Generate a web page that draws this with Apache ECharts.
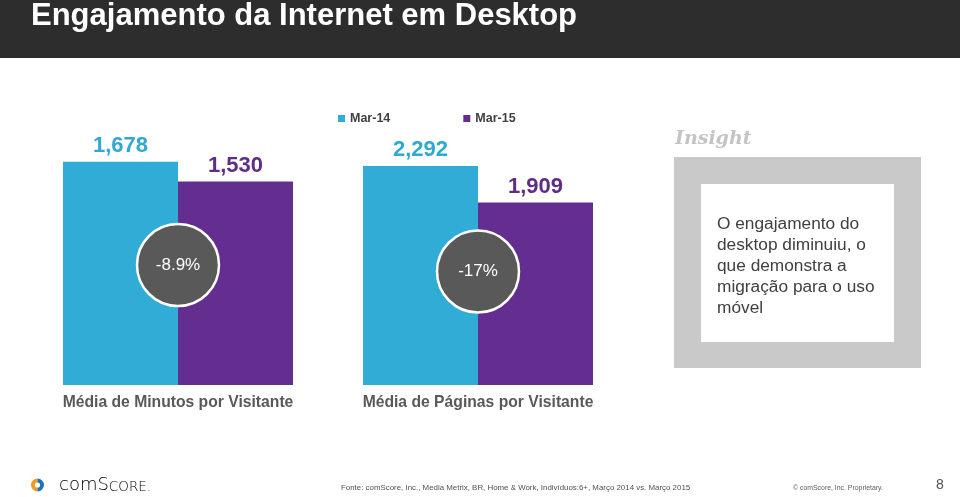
<!DOCTYPE html>
<html>
<head>
<meta charset="utf-8">
<script src="https://cdn.jsdelivr.net/npm/echarts@6/dist/echarts.min.js"></script>
<style>
  html, body { margin: 0; padding: 0; background: #fff; }
  #main { width: 960px; height: 497px; }
</style>
</head>
<body>
<div id="main"></div>
<script>
// dados
var seriesNames = ['Mar-14', 'Mar-15'];
var metrics = ['Média de Minutos por Visitante', 'Média de Páginas por Visitante'];
var minutesValues = [1678, 1530];
var pagesValues = [2292, 1909];
var changeLabels = ['-8.9%', '-17%'];
var insightLines = ['O engajamento do', 'desktop diminuiu, o', 'que demonstra a', 'migração para o uso', 'móvel'];

var cyan = '#31acd7';
var purple = '#642d90';
var colors = [cyan, purple];
var labelColors = ['#2fa8d3', '#5e2d88'];
var font = '"Liberation Sans", Arial, sans-serif';

var chart = echarts.init(document.getElementById('main'));

function fmt(v) {
  return v.toLocaleString('en-US');
}

function barSeries(name, value, idx, gridIdx) {
  return {
    name: name,
    type: 'bar',
    xAxisIndex: gridIdx,
    yAxisIndex: gridIdx,
    data: [value],
    barWidth: 115,
    barGap: '0%',
    itemStyle: { color: colors[idx] },
    label: {
      show: true,
      position: 'top',
      distance: 5,
      formatter: function (p) { return fmt(p.value); },
      color: labelColors[idx],
      fontFamily: font,
      fontWeight: 'bold',
      fontSize: 22
    }
  };
}

function catAxis(i) {
  return {
    type: 'category',
    gridIndex: i,
    data: [metrics[i]],
    axisLine: { show: false },
    axisTick: { show: false },
    axisLabel: {
      margin: 10,
      color: '#595959',
      fontFamily: font,
      fontWeight: 'bold',
      fontSize: 15.7
    }
  };
}

var series = [];
seriesNames.forEach(function (n, i) {
  series.push(barSeries(n, minutesValues[i], i, 0));
});
seriesNames.forEach(function (n, i) {
  series.push(barSeries(n, pagesValues[i], i, 1));
});

var option = {
  backgroundColor: '#fff',
  animation: false,
  legend: {
    data: seriesNames,
    left: 333,
    top: 107,
    itemWidth: 7,
    itemHeight: 7,
    itemGap: 73,
    icon: 'rect',
    textStyle: { color: '#404040', fontFamily: font, fontWeight: 'bold', fontSize: 12.5 }
  },
  grid: [
    { left: 63, width: 230, top: 119, bottom: 112 },
    { left: 363, width: 230, top: 146, bottom: 112 }
  ],
  xAxis: [catAxis(0), catAxis(1)],
  yAxis: [
    { type: 'value', gridIndex: 0, min: 0, max: 2000, show: false, splitLine: { show: false } },
    { type: 'value', gridIndex: 1, min: 0, max: 2500, show: false, splitLine: { show: false } }
  ],
  series: series,
  graphic: [
    { type: 'rect', id: 'header', shape: { x: 0, y: 0, width: 960, height: 58 }, style: { fill: '#2d2d2d' }, z: 10 },
    { type: 'text', id: 'title', x: 31, y: 16, z: 11,
      style: { text: 'Engajamento da Internet em Desktop', fill: '#fff', font: 'bold 31px ' + font, textVerticalAlign: 'middle' } },
    // insight
    { type: 'text', id: 'insightTitle', x: 675, y: 139, z: 11,
      style: { text: 'Insight', fill: '#c4c4c4', font: 'italic bold 19px "DejaVu Serif", serif', textVerticalAlign: 'middle' } },
    { type: 'rect', id: 'insightOuter', shape: { x: 674, y: 157, width: 247, height: 211 }, style: { fill: '#c9c9c9' }, z: 10 },
    { type: 'rect', id: 'insightInner', shape: { x: 701, y: 184, width: 193, height: 158 }, style: { fill: '#fff' }, z: 11 },
    { type: 'text', id: 'insightText', x: 717, y: 214, z: 12,
      style: { text: insightLines.join('\n'), fill: '#404040', font: '17.3px ' + font, lineHeight: 21 } },
    // rodape
    { type: 'sector', id: 'logoA', z: 11, shape: { cx: 37.5, cy: 485, r: 6.5, r0: 2.6, startAngle: Math.PI / 2, endAngle: Math.PI * 1.5 }, style: { fill: '#f39a1f' } },
    { type: 'sector', id: 'logoB', z: 11, shape: { cx: 37.5, cy: 485, r: 6.5, r0: 2.6, startAngle: -Math.PI / 2, endAngle: Math.PI / 2 }, style: { fill: '#1a75bb' } },
    { type: 'text', id: 'logoText', x: 59, y: 485, z: 11,
      style: {
        text: '{a|com}{a|S}{b|CORE.}',
        textVerticalAlign: 'middle',
        rich: {
          a: { fontSize: 18, fontFamily: '"DejaVu Sans", sans-serif', fontWeight: 'lighter', color: '#53626f', verticalAlign: 'bottom' },
          b: { fontSize: 13.5, fontFamily: '"DejaVu Sans", sans-serif', fontWeight: 'lighter', color: '#53626f', verticalAlign: 'bottom' }
        }
      } },
    { type: 'text', id: 'source', x: 341, y: 488, z: 11,
      style: { text: 'Fonte: comScore, Inc., Media Metrix, BR, Home & Work, Indivíduos:6+, Março 2014 vs. Março 2015',
               fill: '#505050', font: '7.9px ' + font, textVerticalAlign: 'middle' } },
    { type: 'text', id: 'copy', x: 793, y: 488, z: 11,
      style: { text: '© comScore, Inc. Proprietary.', fill: '#606060', font: '6.9px ' + font, textVerticalAlign: 'middle' } },
    { type: 'text', id: 'page', x: 940, y: 485, z: 11,
      style: { text: '8', fill: '#505050', font: '14px ' + font, textAlign: 'center', textVerticalAlign: 'middle' } }
  ]
};

chart.setOption(option);

// circulos com a variacao, centrados entre as duas barras de cada grupo
var circleY = [265, 271.5];
var extra = [];
metrics.forEach(function (m, i) {
  var cx = chart.convertToPixel({ xAxisIndex: i }, m);
  extra.push({
    type: 'circle', id: 'chg' + i, z: 20,
    shape: { cx: cx, cy: circleY[i], r: 41 },
    style: { fill: '#595959', stroke: '#fff', lineWidth: 2.5 }
  });
  extra.push({
    type: 'text', id: 'chgTxt' + i, z: 21, x: cx, y: circleY[i],
    style: { text: changeLabels[i], fill: '#fff', font: '17px ' + font, textAlign: 'center', textVerticalAlign: 'middle' }
  });
});
chart.setOption({ graphic: extra });

window.addEventListener('resize', function () {
  chart.resize();
});
</script>
</body>
</html>
